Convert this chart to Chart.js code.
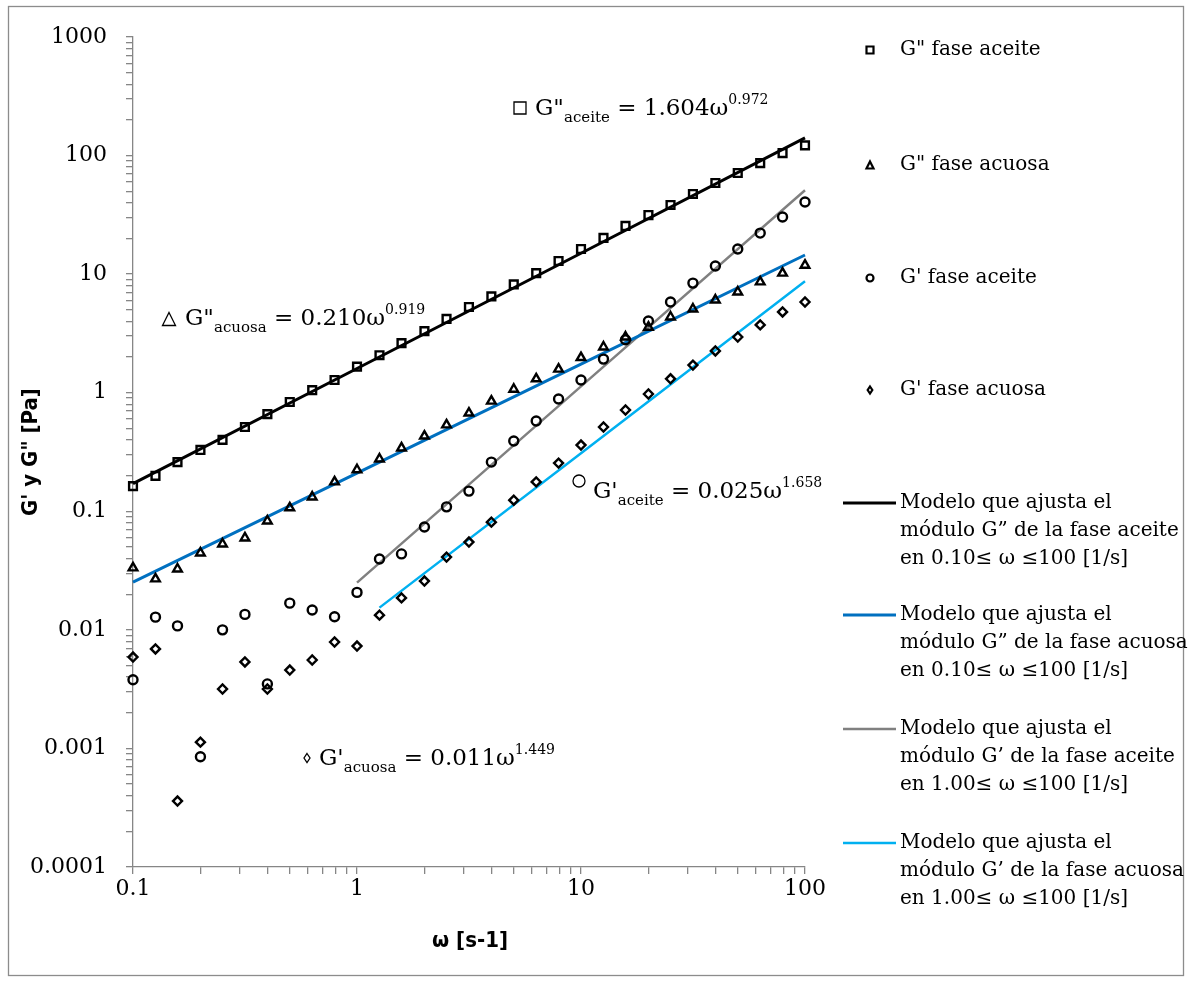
<!DOCTYPE html>
<html>
<head>
<meta charset="utf-8">
<script src="https://cdn.jsdelivr.net/npm/chart.js@4.4.1/dist/chart.umd.min.js"></script>
<style>
  body { margin: 0; background: #fff; }
  canvas { display: block; }
</style>
</head>
<body>
<canvas id="modulusChart" width="1193" height="984"></canvas>
<script>
// angular frequency, 10 points per decade
const omega = [0.1, 0.126, 0.158, 0.2, 0.251, 0.316, 0.398, 0.501, 0.631, 0.794,
  1, 1.26, 1.58, 2, 2.51, 3.16, 3.98, 5.01, 6.31, 7.94,
  10, 12.6, 15.8, 20, 25.1, 31.6, 39.8, 50.1, 63.1, 79.4, 100];

// measured moduli [Pa]
const lossOil = [0.163, 0.199, 0.26, 0.329, 0.40, 0.514, 0.66, 0.835, 1.05, 1.28,
  1.66, 2.07, 2.62, 3.31, 4.19, 5.28, 6.5, 8.2, 10.2, 12.9,
  16.3, 20.2, 25.5, 31.5, 38.3, 47.4, 58.7, 71.3, 86.5, 105, 122];
const lossWater = [0.0333, 0.0269, 0.0326, 0.0445, 0.053, 0.0596, 0.0828, 0.107, 0.132, 0.177,
  0.224, 0.276, 0.342, 0.431, 0.535, 0.674, 0.85, 1.07, 1.31, 1.58,
  1.98, 2.43, 2.95, 3.57, 4.35, 5.08, 6.05, 7.07, 8.6, 10.2, 11.9];
const storageOil = [0.0038, 0.0128, 0.0108, 0.00085, 0.0100, 0.0135, 0.0035, 0.0168, 0.0147, 0.0129,
  0.0207, 0.0396, 0.0437, 0.0737, 0.109, 0.148, 0.26, 0.392, 0.577, 0.885,
  1.28, 1.92, 2.8, 4.03, 5.82, 8.4, 11.7, 16.3, 22.2, 30.3, 40.6];
const storageWater = [0.0059, 0.0069, 0.00036, 0.00113, 0.00317, 0.00536, 0.00317, 0.00458, 0.00557, 0.0079,
  0.0073, 0.0133, 0.0186, 0.0258, 0.0411, 0.055, 0.081, 0.124, 0.177, 0.255,
  0.362, 0.514, 0.715, 0.975, 1.31, 1.71, 2.25, 2.95, 3.73, 4.8, 5.82];

// power-law models
const fitLossOilW = [0.1, 1, 10, 100];
const fitLossOil = [0.171, 1.6, 15.0, 141];
const fitLossWaterW = [0.1, 1, 10, 100];
const fitLossWater = [0.0253, 0.21, 1.74, 14.5];
const fitStorageOilW = [1, 10, 100];
const fitStorageOil = [0.025, 1.13, 51];
const fitStorageWaterW = [1.26, 10, 100];
const fitStorageWater = [0.0154, 0.309, 8.7];

const yTickLabels = [0.0001, 0.001, 0.01, 0.1, 1, 10, 100, 1000];
const xTickLabels = [0.1, 1, 10, 100];

const SERIF = "'DejaVu Serif', serif";
const COND = "'DejaVu Sans Condensed', 'DejaVu Sans', sans-serif";

const pts = (xs, ys) => xs.map((x, i) => ({ x: x, y: ys[i] }));

function decadeTicks(majors) {
  const out = [];
  majors.forEach((m, i) => {
    out.push({ value: m, major: true });
    if (i < majors.length - 1) {
      for (let k = 2; k <= 9; k++) out.push({ value: m * k, major: false });
    }
  });
  return out;
}

const isDecade = v => Math.abs(Math.log10(v) - Math.round(Math.log10(v))) < 1e-6;

const markerBase = { showLine: false, borderColor: "#000", backgroundColor: "rgba(0,0,0,0)", borderWidth: 2.4, clip: false };
const lineBase = { showLine: true, pointRadius: 0, pointHoverRadius: 0, clip: false, tension: 0 };

const datasets = [
  Object.assign({ label: ['G" fase aceite'], data: pts(omega, lossOil), pointStyle: "rect", pointRadius: 5.5 }, markerBase),
  Object.assign({ label: ['G" fase acuosa'], data: pts(omega, lossWater), pointStyle: "triangle", pointRadius: 5 }, markerBase),
  Object.assign({ label: ["G' fase aceite"], data: pts(omega, storageOil), pointStyle: "circle", pointRadius: 4.5 }, markerBase),
  Object.assign({ label: ["G' fase acuosa"], data: pts(omega, storageWater), pointStyle: "rectRot", pointRadius: 4.5 }, markerBase),
  Object.assign({ label: ["Modelo que ajusta el", "módulo G” de la fase aceite", "en 0.10≤ ω ≤100 [1/s]"],
    data: pts(fitLossOilW, fitLossOil), borderColor: "#000000", borderWidth: 3 }, lineBase),
  Object.assign({ label: ["Modelo que ajusta el", "módulo G” de la fase acuosa", "en 0.10≤ ω ≤100 [1/s]"],
    data: pts(fitLossWaterW, fitLossWater), borderColor: "#0070C0", borderWidth: 3 }, lineBase),
  Object.assign({ label: ["Modelo que ajusta el", "módulo G’ de la fase aceite", "en 1.00≤ ω ≤100 [1/s]"],
    data: pts(fitStorageOilW, fitStorageOil), borderColor: "#808080", borderWidth: 2.5 }, lineBase),
  Object.assign({ label: ["Modelo que ajusta el", "módulo G’ de la fase acuosa", "en 1.00≤ ω ≤100 [1/s]"],
    data: pts(fitStorageWaterW, fitStorageWater), borderColor: "#00B0F0", borderWidth: 2.5 }, lineBase)
];

// small outline symbols used by legend and equation labels
function symbol(ctx, style, x, y, s) {
  ctx.beginPath();
  if (style === "rect") {
    ctx.rect(x - s / 2, y - s / 2, s, s);
  } else if (style === "triangle") {
    ctx.moveTo(x, y - s / 2);
    ctx.lineTo(x + s / 2, y + s / 2);
    ctx.lineTo(x - s / 2, y + s / 2);
    ctx.closePath();
  } else if (style === "circle") {
    ctx.arc(x, y, s / 2, 0, Math.PI * 2);
  } else {
    ctx.moveTo(x, y - s / 2);
    ctx.lineTo(x + s / 3, y);
    ctx.lineTo(x, y + s / 2);
    ctx.lineTo(x - s / 3, y);
    ctx.closePath();
  }
  ctx.stroke();
}

function runs(ctx, x, base, parts) {
  parts.forEach(p => {
    ctx.font = p.font;
    ctx.fillText(p.t, x, base + (p.dy || 0));
    x += ctx.measureText(p.t).width;
  });
}

function equation(ctx, x, base, name, sub, rhs, exp) {
  const big = "23px " + SERIF, small = "15px " + SERIF, tiny = "14px " + SERIF;
  runs(ctx, x, base, [
    { t: name, font: big },
    { t: sub, font: small, dy: 7 },
    { t: rhs, font: big },
    { t: exp, font: tiny, dy: -11 }
  ]);
}

const decorations = {
  id: "decorations",
  afterDraw(chart) {
    const ctx = chart.ctx;
    ctx.save();

    // outer frame
    ctx.strokeStyle = "#8c8c8c";
    ctx.lineWidth = 1.3;
    ctx.strokeRect(8.5, 6.5, 1175, 969);

    // axis titles
    ctx.fillStyle = "#000";
    ctx.font = "bold 22px " + COND;
    ctx.textAlign = "center";
    ctx.textBaseline = "middle";
    ctx.fillText("ω [s-1]", 470, 941);
    ctx.save();
    ctx.translate(31, 452);
    ctx.rotate(-Math.PI / 2);
    ctx.fillText("G' y G\" [Pa]", 0, 0);
    ctx.restore();

    // equation labels
    ctx.textAlign = "left";
    ctx.textBaseline = "alphabetic";
    ctx.strokeStyle = "#000";
    ctx.lineWidth = 1.3;
    symbol(ctx, "rect", 520, 108, 12);
    equation(ctx, 535, 115, 'G"', "aceite", " = 1.604ω", "0.972");
    symbol(ctx, "triangle", 169, 319, 13);
    equation(ctx, 185, 325, 'G"', "acuosa", " = 0.210ω", "0.919");
    symbol(ctx, "circle", 579, 481, 12);
    equation(ctx, 593, 498, "G'", "aceite", " = 0.025ω", "1.658");
    symbol(ctx, "diamond", 307, 758, 9);
    equation(ctx, 319, 765, "G'", "acuosa", " = 0.011ω", "1.449");

    // legend
    const rowsY = [50, 165, 278, 390, 503, 615, 729, 843];
    ctx.font = "20px " + SERIF;
    ctx.textBaseline = "middle";
    chart.data.datasets.forEach((ds, i) => {
      const y = rowsY[i];
      if (ds.showLine) {
        ctx.strokeStyle = ds.borderColor;
        ctx.lineWidth = ds.borderWidth;
        ctx.beginPath();
        ctx.moveTo(843, y);
        ctx.lineTo(896, y);
        ctx.stroke();
      } else {
        ctx.strokeStyle = "#000";
        ctx.lineWidth = 2.2;
        symbol(ctx, ds.pointStyle === "rectRot" ? "diamond" : ds.pointStyle, 870, y, 7);
      }
      ds.label.forEach((line, j) => ctx.fillText(line, 900, y + j * 28));
    });
    ctx.restore();
  }
};

const axisGrid = {
  drawOnChartArea: false,
  drawTicks: true,
  tickLength: 7,
  color: "#868686",
  tickColor: "#868686",
  lineWidth: 1.3
};

new Chart(document.getElementById("modulusChart"), {
  type: "scatter",
  data: { datasets: datasets },
  options: {
    responsive: false,
    animation: false,
    layout: { padding: { left: 0, top: 37, right: 388, bottom: 0 } },
    plugins: {
      legend: { display: false },
      tooltip: { enabled: false }
    },
    scales: {
      x: {
        type: "logarithmic",
        min: 0.1,
        max: 100,
        border: { color: "#868686", width: 1.3 },
        grid: axisGrid,
        afterFit(scale) { scale.height = 117; },
        afterBuildTicks(scale) { scale.ticks = decadeTicks(xTickLabels); },
        ticks: {
          autoSkip: false,
          maxRotation: 0,
          padding: 2,
          color: "#000",
          font: { family: SERIF, size: 22 },
          callback: v => (isDecade(v) ? String(v) : "")
        }
      },
      y: {
        type: "logarithmic",
        min: 0.0001,
        max: 1000,
        border: { color: "#868686", width: 1.3 },
        grid: axisGrid,
        afterFit(scale) { scale.width = 133; },
        afterBuildTicks(scale) { scale.ticks = decadeTicks(yTickLabels); },
        ticks: {
          autoSkip: false,
          padding: 19,
          color: "#000",
          font: { family: SERIF, size: 22 },
          callback: v => (isDecade(v) ? String(v) : "")
        }
      }
    }
  },
  plugins: [decorations]
});
</script>
</body>
</html>
